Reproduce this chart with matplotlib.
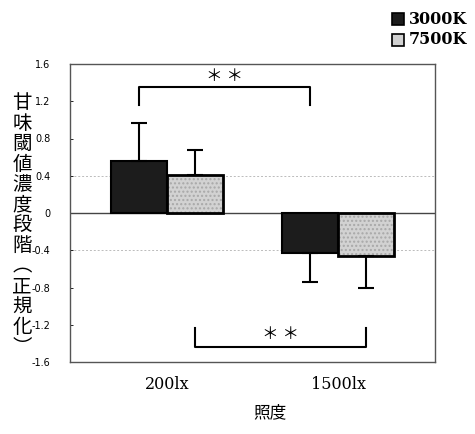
import matplotlib
matplotlib.use("Agg")
import matplotlib.pyplot as plt
import numpy as np

categories = ["200lx", "1500lx"]
series_names = ["3000K", "7500K"]
means_3000K = [0.555, -0.43]
means_7500K = [0.405, -0.46]
err_3000K = [0.415, 0.31]
err_7500K = [0.275, 0.34]
yticks = [1.6, 1.2, 0.8, 0.4, 0, -0.4, -0.8, -1.2, -1.6]
ytick_labels = ["1.6", "1.2", "0.8", "0.4", "0", "-0.4", "-0.8", "-1.2", "-1.6"]
ylabel_chars = ["甘", "味", "閾", "値", "濃", "度", "段", "階", "︵", "正", "規", "化", "︶"]
xlabel = "照度"

fig = plt.figure(figsize=(4.75, 4.34), dpi=100)
ax = fig.add_axes([70/475, 1-362/434, 365/475, 298/434])

x = np.arange(len(categories))
w = 0.33
dark = "#1c1c1c"
light = "#d2d2d2"
hatch_col = "#a8a8a8"

def one_sided(vals, errs):
    lo = [0 if v >= 0 else e for v, e in zip(vals, errs)]
    hi = [e if v >= 0 else 0 for v, e in zip(vals, errs)]
    return [lo, hi]

ekw = dict(ecolor="black", elinewidth=1.5, capsize=6, capthick=1.5, zorder=5)
ax.bar(x - w/2, means_3000K, w, color=dark, edgecolor="black", linewidth=1.5, zorder=3,
       yerr=one_sided(means_3000K, err_3000K), error_kw=ekw)
# light stippled fill (hatch drawn in gray), then black outline on top
ax.bar(x + w/2, means_7500K, w, color=light, edgecolor=hatch_col, linewidth=0, hatch="....", zorder=3)
ax.bar(x + w/2, means_7500K, w, color="none", edgecolor="black", linewidth=2, zorder=4,
       yerr=one_sided(means_7500K, err_7500K), error_kw=ekw)

ax.set_xlim(-0.567, 1.567)
ax.set_ylim(-1.6, 1.6)
ax.set_yticks(yticks)
ax.set_yticklabels(ytick_labels, fontsize=7, family="DejaVu Sans")
ax.tick_params(axis="y", direction="in", length=2, width=0.6, pad=14)
ax.set_xticks(x)
ax.set_xticklabels(categories, fontsize=11.5, family="DejaVu Serif")
ax.tick_params(axis="x", length=0, pad=10)

for yv in [0.4, -0.4]:
    ax.axhline(yv, color="#bbbbbb", linestyle=(0, (2, 2)), linewidth=0.7, zorder=1)
ax.axhline(0, color="#444444", linewidth=1.0, zorder=2)
for s in ax.spines.values():
    s.set_color("#555555")
    s.set_linewidth(1.0)

# significance brackets
def bracket(x1, x2, yb, yl, ys):
    ax.plot([x1, x1, x2, x2], [yl, yb, yb, yl], color="black", lw=1.5, zorder=4)
    ax.text((x1 + x2)/2, ys, "＊ ＊", ha="center", va="center", fontsize=12,
            family=["Noto Sans CJK JP", "DejaVu Sans"], zorder=4)

bracket(x[0] - w/2, x[1] - w/2, 1.35, 1.16, 1.47)
bracket(x[0] + w/2, x[1] + w/2, -1.44, -1.24, -1.31)

# y label as vertical column of characters
y0 = 103
step = 20.4
for i, c in enumerate(ylabel_chars):
    fig.text(22/475, 1 - (y0 + i*step)/434, c, ha="center", va="center", fontsize=14,
             family=["Noto Sans CJK JP", "DejaVu Sans"])

fig.text(270/475, 1 - 413/434, xlabel, ha="center", va="center", fontsize=12,
         family=["Noto Sans CJK JP", "DejaVu Sans"])

# legend
lx = 392
for i, (name, col) in enumerate(zip(series_names, [dark, light])):
    yc = 19 + i*21
    r = plt.Rectangle((lx/475, 1-(yc+6)/434), 12/475, 12/434, transform=fig.transFigure,
                      facecolor=col, edgecolor="black", lw=1.2)
    fig.patches.append(r)
    fig.text((lx+17)/475, 1-yc/434, name, ha="left", va="center", fontsize=11.5,
             family="DejaVu Serif", weight="bold")

fig.savefig("out.png", dpi=100)
